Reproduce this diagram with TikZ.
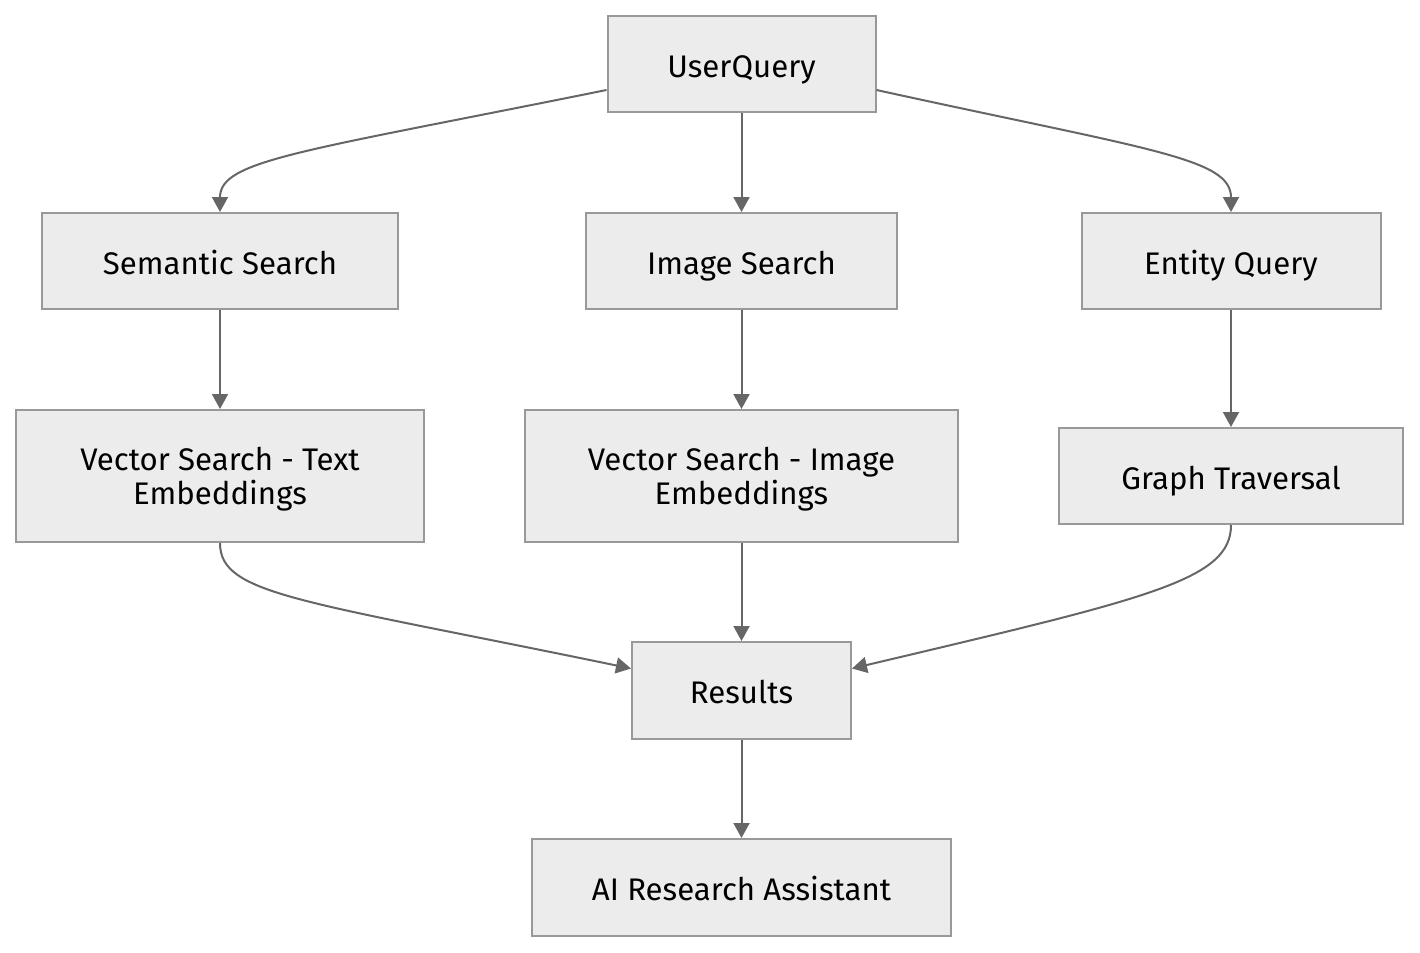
\documentclass[tikz,border=0pt]{standalone}
\usepackage{fontspec}
\setmainfont{Fira Sans}
\usetikzlibrary{arrows.meta}
\definecolor{boxfill}{HTML}{ECECEC}
\definecolor{boxline}{HTML}{999999}
\definecolor{flowline}{HTML}{666666}
\begin{document}
\begin{tikzpicture}[x=0.5pt, y=-0.5pt,
    box/.style={draw=boxline, fill=boxfill, line width=1pt, align=center,
      font=\fontsize{15.6pt}{17pt}\selectfont, inner sep=0pt},
    oneline/.style={box, text height=13pt, text depth=0pt},
    twoline/.style={box, text depth=-2pt},
    flow/.style={draw=flowline, line width=1pt,
      -{Triangle[length=7.5pt, width=8pt]}}]
  \useasboundingbox (0, 0) rectangle (1420, 953);
  \node[oneline, minimum width=134pt, minimum height=48pt] (uq) at (741.5, 64) {UserQuery};
  \node[oneline, minimum width=178pt, minimum height=48pt] (sem) at (220, 261) {Semantic Search};
  \node[oneline, minimum width=155.5pt, minimum height=48pt] (img) at (741.5, 261) {Image Search};
  \node[oneline, minimum width=149.5pt, minimum height=48pt] (ent) at (1231, 261) {Entity Query};
  \node[twoline, minimum width=204pt, minimum height=66pt] (vtext) at (220, 476)
    {Vector Search - Text\\Embeddings};
  \node[twoline, minimum width=216.5pt, minimum height=66pt] (vimg) at (741.5, 476)
    {Vector Search - Image\\Embeddings};
  \node[oneline, minimum width=172pt, minimum height=48pt] (graph) at (1231, 476) {Graph Traversal};
  \node[oneline, minimum width=109.5pt, minimum height=48.5pt] (res) at (741.5, 690.5) {Results};
  \node[oneline, minimum width=209.5pt, minimum height=48.5pt] (ai) at (741.5, 887.5) {AI Research Assistant};

  \draw[flow] ([yshift=-13pt]uq.west) .. controls (300, 152) and (220, 160) .. (sem.north);
  \draw[flow] (uq) -- (img);
  \draw[flow] ([yshift=-13pt]uq.east) .. controls (1150, 150) and (1231, 158) .. (ent.north);
  \draw[flow] (sem) -- (vtext);
  \draw[flow] (img) -- (vimg);
  \draw[flow] (ent) -- (graph);
  \draw[flow] (vtext.south) .. controls (220, 595) and (300, 600) .. ([yshift=11pt]res.west);
  \draw[flow] (vimg) -- (res);
  \draw[flow] (graph.south) .. controls (1231, 580) and (1150, 598) .. ([yshift=11pt]res.east);
  \draw[flow] (res) -- (ai);
\end{tikzpicture}
\end{document}
